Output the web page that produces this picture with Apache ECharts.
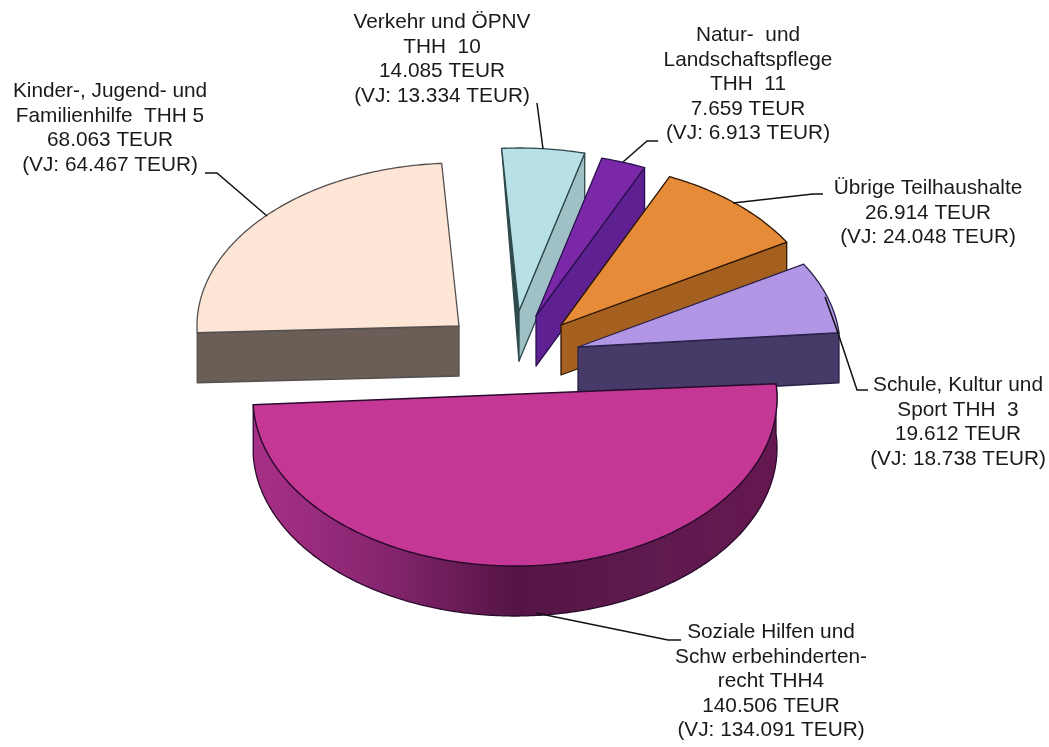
<!DOCTYPE html>
<html><head><meta charset="utf-8">
<style>html,body{margin:0;padding:0;background:#fff}#c{width:1049px;height:747px}</style>
<script src="https://cdn.jsdelivr.net/npm/echarts@6/dist/echarts.min.js"></script>
</head><body><div id="c"></div>
<script>
const categories = [
  'Kinder-, Jugend- und\nFamilienhilfe  THH 5',
  'Verkehr und ÖPNV\nTHH  10',
  'Natur-  und\nLandschaftspflege\nTHH  11',
  'Übrige Teilhaushalte',
  'Schule, Kultur und\nSport THH  3',
  'Soziale Hilfen und\nSchw erbehinderten-\nrecht THH4'
];
const currentYear = [68063, 14085, 7659, 26914, 19612, 140506];
const previousYear = [64467, 13334, 6913, 24048, 18738, 134091];

const topColors = ['#fde6d5', '#b7e1e7', '#7b28a8', '#e68b38', '#b196e6', '#c53795'];
const wallColors = ['#6a5e56', '#9fc0c4', '#5f2192', '#a5601f', '#453a68', '#5a1648'];
const edgeColors = ['#555050', '#2f4a4c', '#2a1050', '#2a1505', '#2a2248', '#2a0a2c'];
const centers = [[459, 326], [519, 311], [536, 316], [561, 325], [578, 347], [515, 398]];
const labelPos = [[110, 79], [442, 10], [748, 23], [928, 176], [958, 373], [771, 620]];
const leaders = [
  [[205, 173], [217, 173], [267, 216]],
  [[537, 103], [543, 149]],
  [[658, 141], [647, 141], [623, 162]],
  [[823, 194], [813, 194], [733, 203]],
  [[825, 297], [838, 333], [857, 390], [868, 390]],
  [[681, 640], [668, 640], [536, 613]]
];
const A = 262, B_FRONT = 168, B_BACK = 163, DEPTH = 50, START = 177.7;

const total = currentYear.reduce((s, v) => s + v, 0);
const fmt = v => String(v).replace(/\B(?=(\d{3})+$)/g, '.');
const starts = [];
currentYear.reduce((acc, v, i) => { starts[i] = acc; return acc + v / total * 360; }, START);

function pt(c, deg, dy) {
  const r = deg * Math.PI / 180, s = Math.sin(r);
  return [c[0] + A * Math.cos(r), c[1] + (s > 0 ? B_FRONT : B_BACK) * s + (dy || 0)];
}
function arc(c, t0, t1, dy) {
  const out = [], n = Math.max(6, Math.ceil(Math.abs(t1 - t0) * 1.5));
  for (let i = 0; i <= n; i++) out.push(pt(c, t0 + (t1 - t0) * i / n, dy));
  return out;
}
function renderItem(params, api) {
  const i = params.dataIndex, value = api.value(0);
  const t0 = starts[i], t1 = t0 + value / total * 360, c = centers[i];
  const children = [];
  const stroke = edgeColors[i];
  const poly = (points, fill, lw) => ({
    type: 'polygon', shape: { points },
    style: { fill, stroke, lineWidth: lw || 1.3, lineJoin: 'round' }
  });
  const low = [c[0], c[1] + DEPTH];
  const mid = (t0 + t1) / 2 * Math.PI / 180;
  if (Math.sin(mid) > 0.5) {
    const rimFill = new echarts.graphic.LinearGradient(0, 0, 1, 0, [
      { offset: 0, color: '#a83088' }, { offset: 0.25, color: '#86256f' },
      { offset: 0.5, color: '#551544' }, { offset: 0.75, color: '#5e1a4e' },
      { offset: 1, color: '#64184f' }
    ]);
    children.push(poly(arc(c, t0, t1, 0).concat(arc(c, t1, t0, DEPTH)), rimFill));
  } else {
    const cs = Math.cos(t0 * Math.PI / 180), ce = Math.cos(t1 * Math.PI / 180);
    if (cs < 0) {
      if (cs > -0.15) children.push(poly([pt(c, t0), c, low], stroke));
      else children.push(poly([c, pt(c, t0), pt(c, t0, DEPTH), low], wallColors[i]));
    }
    if (ce > 0) children.push(poly([c, pt(c, t1), pt(c, t1, DEPTH), low], wallColors[i]));
  }
  const span = t1 - t0;
  children.push(poly((span >= 180 ? [] : [c]).concat(arc(c, t0, t1, 0)), topColors[i]));
  children.push({
    type: 'polyline', shape: { points: leaders[i] },
    style: { fill: null, stroke: '#111', lineWidth: 1.5 }
  });
  const lines = categories[i] + '\n' + fmt(value) + ' TEUR\n(VJ: ' + fmt(previousYear[i]) + ' TEUR)';
  children.push({
    type: 'text', x: labelPos[i][0], y: labelPos[i][1],
    style: {
      text: lines, fill: '#1a1a1a', align: 'center', verticalAlign: 'top',
      font: '20.8px "Liberation Sans", Arial, sans-serif', lineHeight: 24.6
    }
  });
  return { type: 'group', children };
}
const chart = echarts.init(document.getElementById('c'), null, { renderer: 'canvas' });
chart.setOption({
  backgroundColor: '#ffffff',
  animation: false,
  series: [{
    type: 'custom', coordinateSystem: 'none', silent: true,
    renderItem,
    data: currentYear.map((v, i) => ({ name: categories[i], value: [v] }))
  }]
});
</script></body></html>
